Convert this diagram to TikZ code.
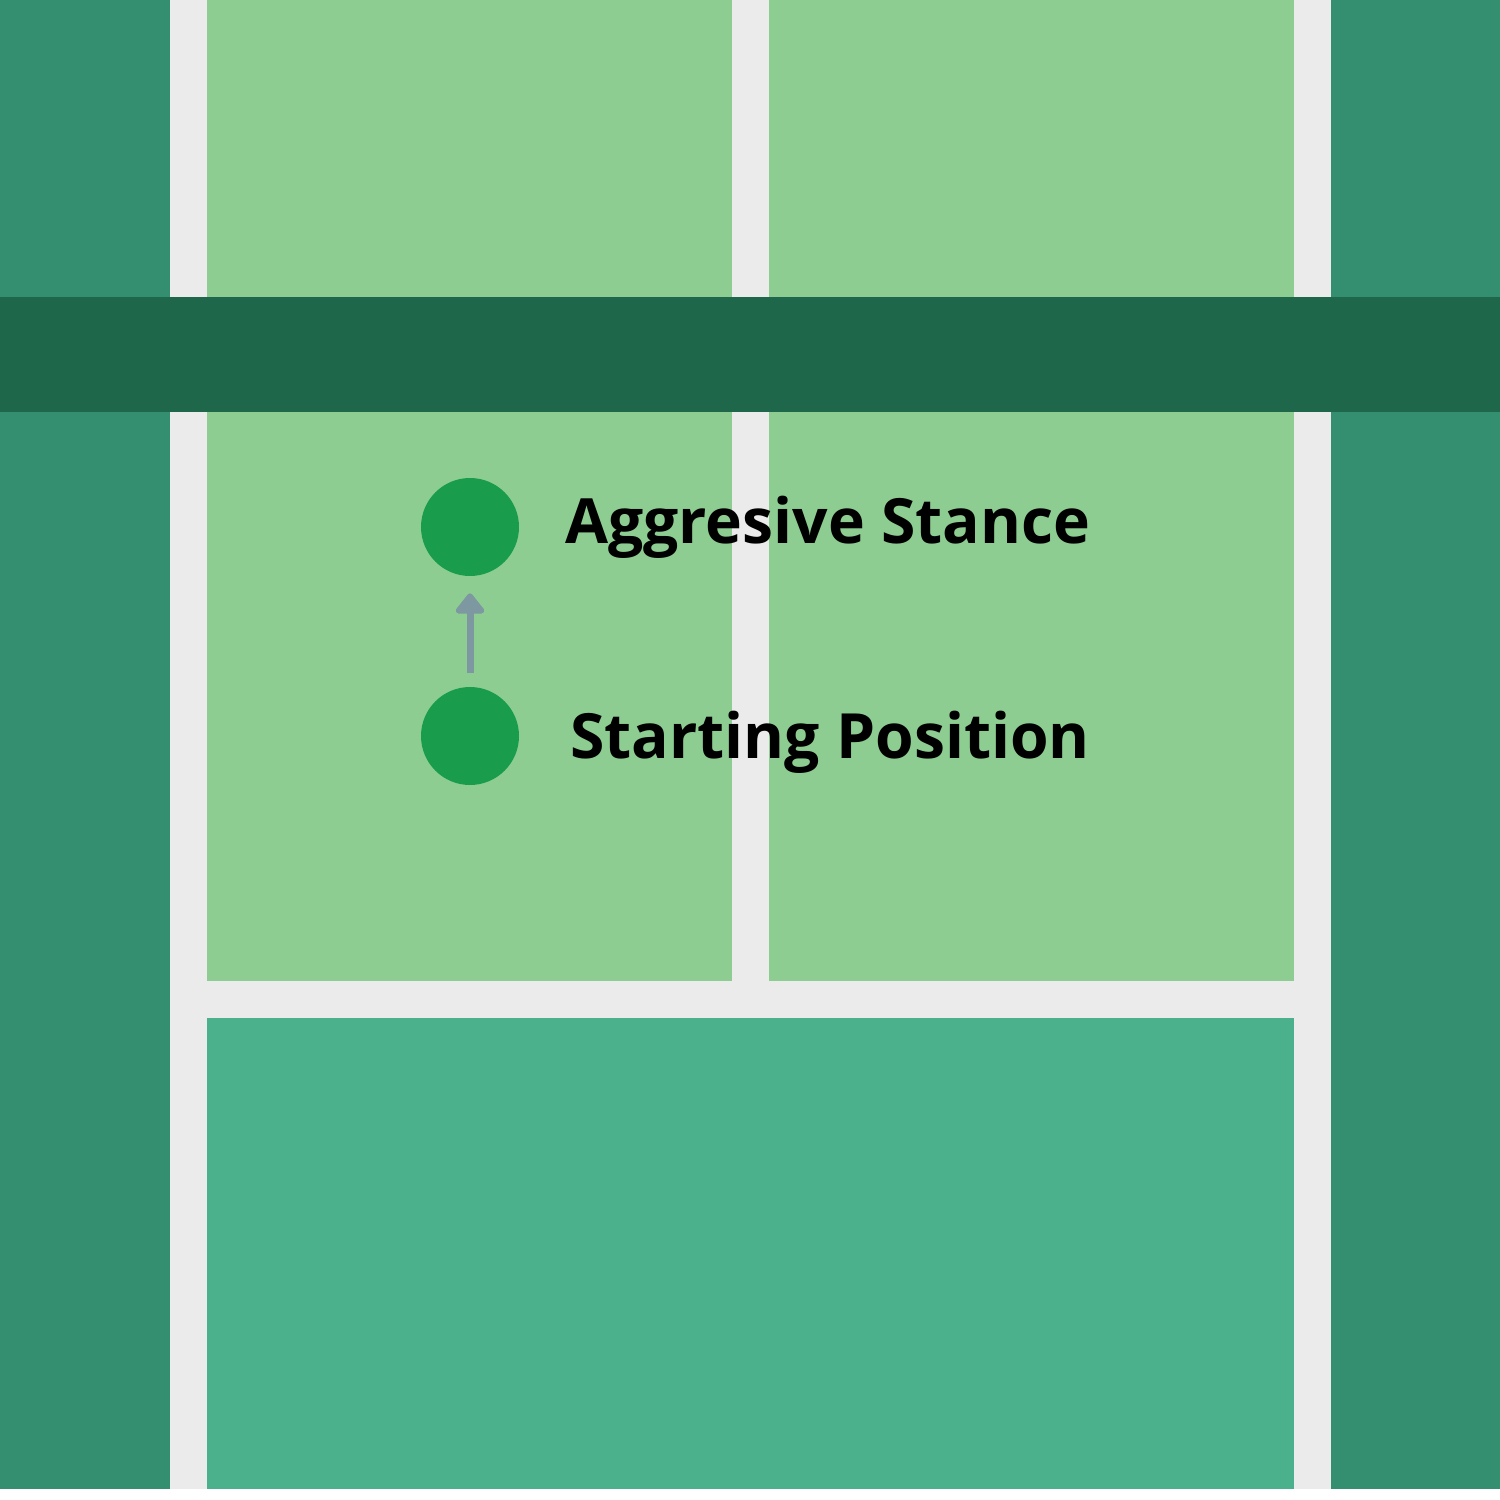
\documentclass[tikz,border=0pt]{standalone}
\usepackage{fontspec}
\setmainfont{Open Sans}
\usetikzlibrary{arrows.meta}
\definecolor{bgteal}{HTML}{338F70}
\definecolor{courtline}{HTML}{EBEBEB}
\definecolor{lightgreen}{HTML}{8DCD91}
\definecolor{netgreen}{HTML}{1E674A}
\definecolor{bottomgreen}{HTML}{4AB18C}
\definecolor{dotgreen}{HTML}{1A9C4D}
\definecolor{arrowgray}{HTML}{7D98A0}
\tikzset{
  player/.style={circle, fill=dotgreen, minimum size=1.96cm, inner sep=0pt},
  label/.style={anchor=base west, inner sep=0pt, font=\fontsize{35.5}{40}\selectfont\bfseries, text=black},
  moveArrow/.style={draw=arrowgray, line width=0.14cm, -{Triangle[width=0.66cm,length=0.44cm,round]}}
}
\begin{document}
\begin{tikzpicture}[x=0.02cm, y=-0.02cm]
\useasboundingbox (0,0) rectangle (1500,1500);
\fill[white] (0,0) rectangle (1500,1500);
% background
\fill[bgteal] (0,0) rectangle (1500,1489);
% court lines area
\fill[courtline] (170,0) rectangle (1331,1489);
% service boxes
\fill[lightgreen] (207,0) rectangle (732,297);
\fill[lightgreen] (769,0) rectangle (1294,297);
\fill[lightgreen] (207,412) rectangle (732,981);
\fill[lightgreen] (769,412) rectangle (1294,981);
% back court
\fill[bottomgreen] (207,1018) rectangle (1294,1489);
% net
\fill[netgreen] (0,297) rectangle (1500,412);
% players
\node[player] (agg) at (470,527) {};
\node[player] (start) at (470,736) {};
\draw[moveArrow, shorten <=0.28cm, shorten >=0.34cm] (start) -- (agg);
% labels
\node[label] (aggtext) at (565,543) {Aggresive Stance};
\node[label] (starttext) at (570,758) {Starting Position};
\end{tikzpicture}
\end{document}
